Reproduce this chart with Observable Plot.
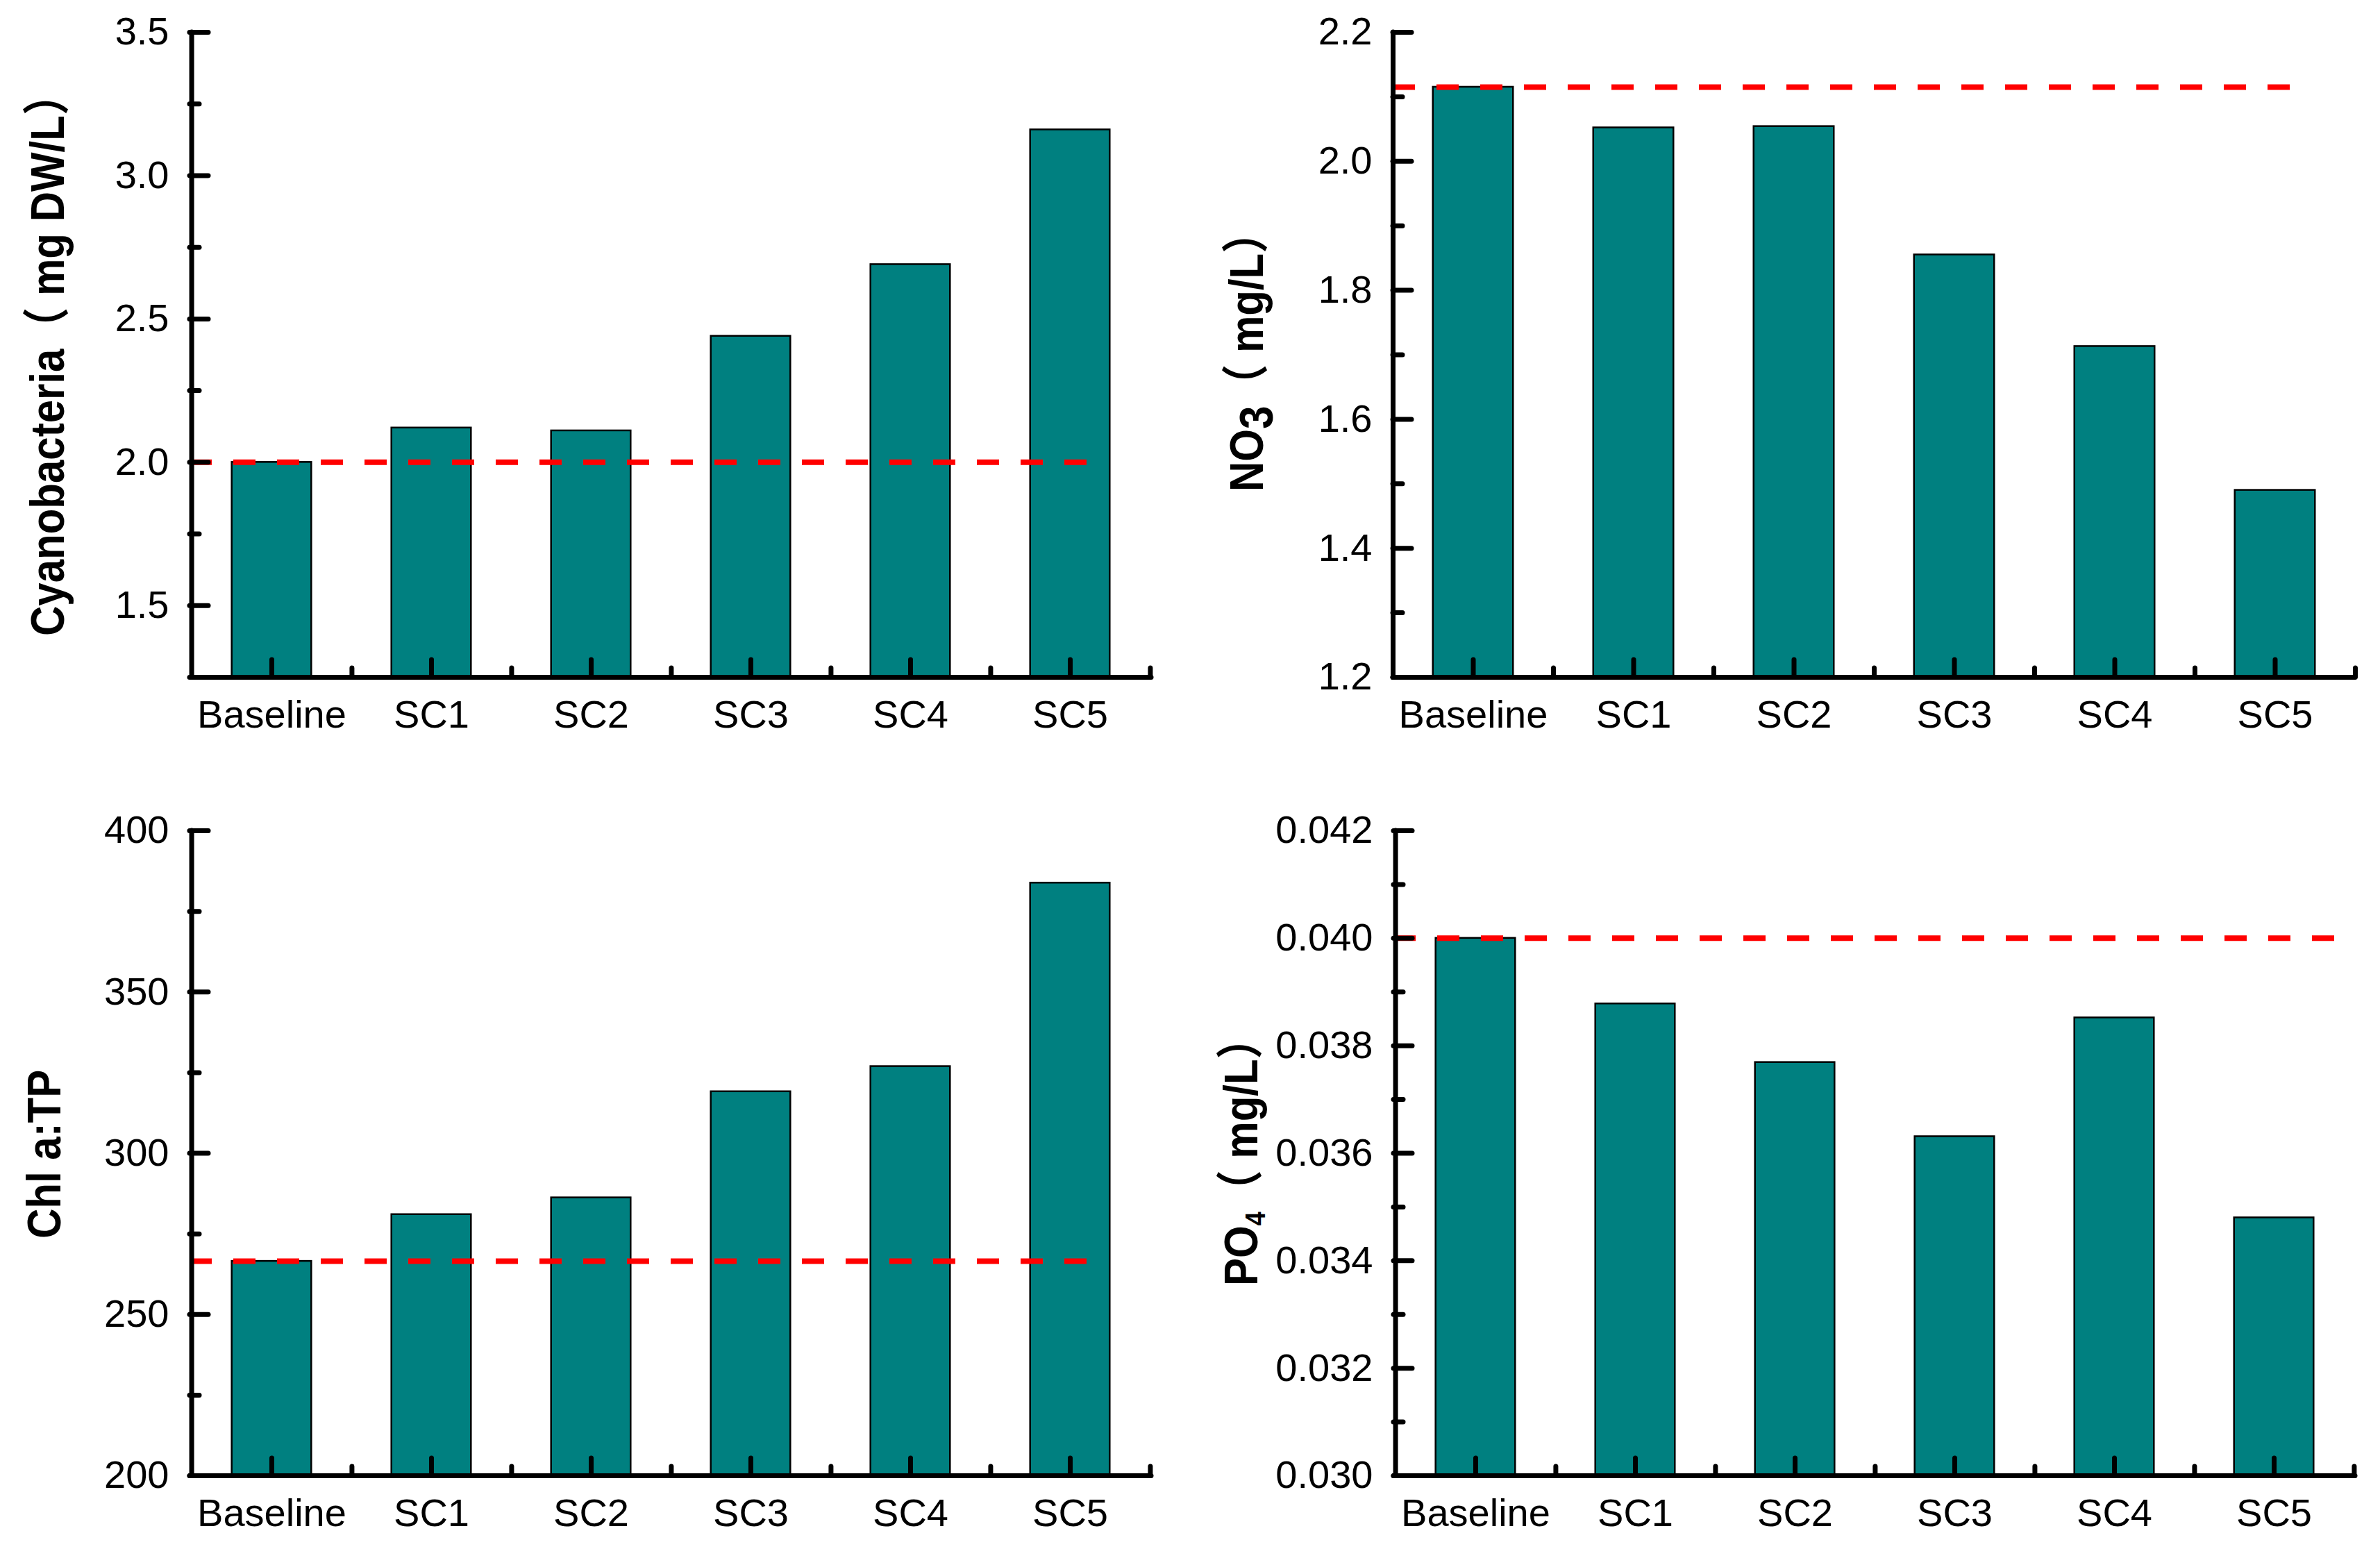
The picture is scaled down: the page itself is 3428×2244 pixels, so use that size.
<!DOCTYPE html>
<html>
<head>
<meta charset="utf-8">
<script src="https://cdn.jsdelivr.net/npm/d3@7"></script>
<script src="https://cdn.jsdelivr.net/npm/@observablehq/plot@0.6"></script>
<style>
  html, body { margin: 0; padding: 0; background: #ffffff; }
  #root { position: relative; width: 3428px; height: 2244px; background: #ffffff; }
  .panel { position: absolute; }
</style>
</head>
<body>
<div id="root"></div>
<script>
// ---------- data ----------
const categories = ["Baseline", "SC1", "SC2", "SC3", "SC4", "SC5"];

const cyanobacteria = [2.00, 2.12, 2.11, 2.44, 2.69, 3.16];
const cyanoBaseline = 2.00;
const cyanoTicks = [1.5, 2.0, 2.5, 3.0, 3.5];
const cyanoMinor = [1.75, 2.25, 2.75, 3.25];

const no3 = [2.115, 2.052, 2.054, 1.855, 1.713, 1.490];
const no3Baseline = 2.115;
const no3Ticks = [1.2, 1.4, 1.6, 1.8, 2.0, 2.2];
const no3Minor = [1.3, 1.5, 1.7, 1.9, 2.1];

const chlTP = [266.5, 281.0, 286.2, 319.1, 326.9, 383.8];
const chlBaseline = 266.5;
const chlTicks = [200, 250, 300, 350, 400];
const chlMinor = [225, 275, 325, 375];

const po4 = [0.0400, 0.03878, 0.03769, 0.03631, 0.03852, 0.03480];
const po4Baseline = 0.0400;
const po4Ticks = [0.030, 0.032, 0.034, 0.036, 0.038, 0.040, 0.042];
const po4Minor = [0.031, 0.033, 0.035, 0.037, 0.039, 0.041];

// ---------- drawing ----------
const FONT = "'Liberation Sans', Arial, 'Noto Sans CJK SC', sans-serif";
const W = 1714, H = 1122;

function panel(o) {
  const fw = W - o.mL - o.mR;
  const fh = H - o.mT - o.mB;
  const step = fw / categories.length;
  const data = categories.map((c, i) => ({c, v: o.values[i]}));
  const lw = 7;

  const chart = Plot.plot({
    width: W, height: H,
    marginLeft: o.mL, marginRight: o.mR, marginTop: o.mT, marginBottom: o.mB,
    style: {fontFamily: FONT, fontSize: "56px", color: "#000", background: "#fff", overflow: "visible"},
    x: {domain: categories, padding: 0, label: null},
    y: {domain: o.domain, label: null},
    marks: [
      Plot.barY(data, {
        x: "c", y1: o.domain[0], y2: "v",
        fill: "#008080", stroke: "#000", strokeWidth: 2.5,
        insetLeft: step / 4, insetRight: step / 4
      }),
      Plot.ruleY([o.baseline], {
        stroke: "#ff0000", strokeWidth: 8, strokeDasharray: "32,31",
        strokeLinecap: "butt", insetRight: o.dashInset
      }),
      // axis lines
      Plot.ruleY([o.domain[0]], {stroke: "#000", strokeWidth: lw, strokeLinecap: "round"}),
      Plot.ruleX([categories[0]], {x: d => d, dx: -step / 2, stroke: "#000", strokeWidth: lw, strokeLinecap: "round"}),
      // x ticks (inward)
      Plot.ruleX(categories, {x: d => d, insetTop: fh - 25, stroke: "#000", strokeWidth: lw, strokeLinecap: "round"}),
      Plot.ruleX(categories, {x: d => d, dx: step / 2, insetTop: fh - 13, stroke: "#000", strokeWidth: lw, strokeLinecap: "round"}),
      // y ticks (inward)
      Plot.ruleY(o.ticks, {insetRight: fw - 27, stroke: "#000", strokeWidth: lw, strokeLinecap: "round"}),
      Plot.ruleY(o.minor, {insetRight: fw - 14, stroke: "#000", strokeWidth: lw, strokeLinecap: "round"}),
      // tick labels
      Plot.axisY({ticks: o.ticks, tickFormat: o.fmt, tickSize: 0, tickPadding: 30, fontSize: 56, label: null}),
      Plot.axisX({tickSize: 0, tickPadding: 33, fontSize: 56, label: null})
    ]
  });

  // axis title with sub-scripts, as real text
  const svg = d3.select(chart);
  const t = svg.append("text")
    .attr("transform", `translate(${o.lx},${o.ly}) rotate(-90) scale(1,1.13)`)
    .attr("text-anchor", "start")
    .attr("font-family", FONT)
    .attr("font-weight", "bold")
    .attr("font-size", 60)
    .attr("fill", "#000");
  o.label.forEach(p => {
    const s = t.append("tspan").text(p.t);
    if (p.dy) s.attr("dy", p.dy);
    if (p.size) s.attr("font-size", p.size);
  });

  const div = document.createElement("div");
  div.className = "panel";
  div.style.left = o.left + "px";
  div.style.top = o.top + "px";
  div.appendChild(chart);
  document.getElementById("root").appendChild(div);
}

panel({
  values: cyanobacteria, baseline: cyanoBaseline, domain: [1.25, 3.5],
  ticks: cyanoTicks, minor: cyanoMinor, fmt: d3.format(".1f"),
  mL: 273, mR: 56, mT: 46, mB: 147, dashInset: 86, left: 0, top: 0,
  lx: 92, ly: 916,
  label: [{t: "Cyanobacteria（ mg DW/L）"}]
});

panel({
  values: no3, baseline: no3Baseline, domain: [1.2, 2.2],
  ticks: no3Ticks, minor: no3Minor, fmt: d3.format(".1f"),
  mL: 292, mR: 36, mT: 46, mB: 147, dashInset: 84, left: 1714, top: 0,
  lx: 105, ly: 708,
  label: [{t: "NO"}, {t: "3", dy: 12}, {t: "（ mg/L）", dy: -12}]
});

panel({
  values: chlTP, baseline: chlBaseline, domain: [200, 400],
  ticks: chlTicks, minor: chlMinor, fmt: d3.format("d"),
  mL: 273, mR: 56, mT: 74, mB: 119, dashInset: 86, left: 0, top: 1122,
  lx: 87, ly: 662,
  label: [{t: "Chl a:TP"}]
});

panel({
  values: po4, baseline: po4Baseline, domain: [0.030, 0.042],
  ticks: po4Ticks, minor: po4Minor, fmt: d3.format(".3f"),
  mL: 293, mR: 36, mT: 74, mB: 119, dashInset: 30, left: 1714, top: 1122,
  lx: 97, ly: 730,
  label: [{t: "PO"}, {t: "4", dy: 10, size: 36}, {t: "（ mg/L）", dy: -10}]
});
</script>
</body>
</html>
